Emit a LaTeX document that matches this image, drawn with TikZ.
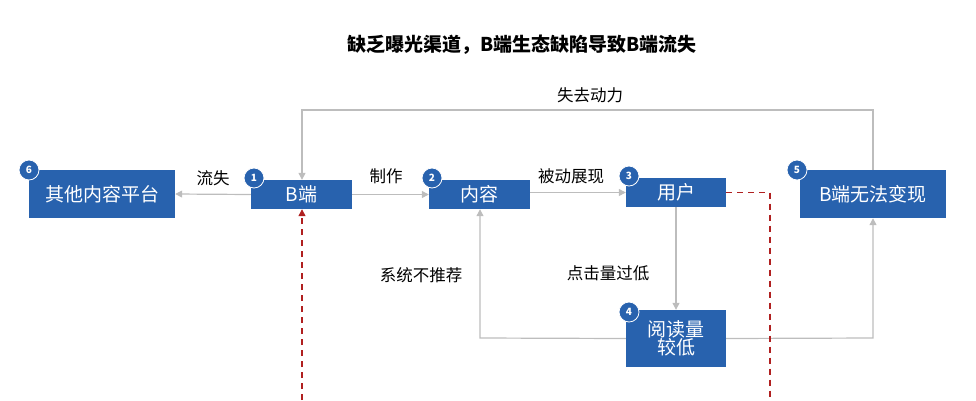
\documentclass[tikz,border=0pt]{standalone}
\usepackage{fontspec}
\setmainfont{Noto Sans CJK SC}
\usetikzlibrary{arrows.meta}
\definecolor{bblue}{HTML}{2862AE}
\definecolor{lgray}{HTML}{BDBDBD}
\definecolor{dred}{HTML}{B02020}
\begin{document}
\begin{tikzpicture}[x=1pt,y=-1pt,
 box/.style={fill=bblue,text=white,font=\fontsize{19}{21}\selectfont,inner sep=0pt,align=center},
 badge/.style={circle,fill=bblue,draw=white,line width=0.8pt,text=white,font=\bfseries\fontsize{10}{10}\selectfont,minimum size=20pt,inner sep=0pt},
 conn/.style={draw=lgray,line width=1.2pt,-{Triangle[length=7pt,width=7pt]}},
 red/.style={draw=dred,line width=1.3pt,dash pattern=on 6pt off 5pt},
 lbl/.style={font=\fontsize{16.5}{18}\selectfont,text=black}]
\useasboundingbox (0,0) rectangle (976,400);
\node[font=\bfseries\fontsize{19}{21}\selectfont] (title) at (522,45) {缺乏曝光渠道，B端生态缺陷导致B端流失};
\node[box,minimum width=146pt,minimum height=48pt] (n6) at (102,194) {其他内容平台};
\node[box,minimum width=101pt,minimum height=29pt] (n1) at (301.5,194.5) {B端};
\node[box,minimum width=101pt,minimum height=29pt] (n2) at (479.5,194.5) {内容};
\node[box,minimum width=100pt,minimum height=29pt] (n3) at (676,192.5) {用户};
\node[box,minimum width=100pt,minimum height=57pt] (n4) at (676,338.5) {阅读量\\[-3pt]较低};
\node[box,minimum width=146pt,minimum height=48pt] (n5) at (873,194) {B端无法变现};
\node[badge] (b6) at (29,170) {6};
\node[badge] (b1) at (254,178) {1};
\node[badge] (b2) at (432,178) {2};
\node[badge] (b3) at (629,176) {3};
\node[badge] (b4) at (629,312) {4};
\node[badge] (b5) at (797,170) {5};
\coordinate (tl) at (302,110);
\coordinate (tr) at (873,110);
\coordinate (bl) at (480,338);
\coordinate (br) at (873,338);
\draw[conn] (n1.west) -- (n6.east);
\draw[conn] (n1.east) -- (n2.west);
\draw[conn] (n2.east |- n3.west) -- (n3.west);
\draw[conn] (n3.south) -- (n4.north);
\draw[conn] (n5.north) -- (tr) -- (tl) -- (n1.north -| tl);
\draw[conn] (n4.west) -- (bl) -- (n2.south -| bl);
\draw[conn] (n4.east) -- (br) -- (n5.south);
\coordinate (r1) at (770,192.5);
\coordinate (r2) at (770,400);
\coordinate (r3) at (302,400);
\draw[red] (n3.east) -- (r1) -- (r2);
\draw[red,-{Triangle[length=7pt,width=7pt]}] (r3) -- (n1.south -| r3);
\node[lbl] (l1) at (213,178) {流失};
\node[lbl] (l2) at (386,176) {制作};
\node[lbl] (l3) at (571,176) {被动展现};
\node[lbl] (l4) at (590,95) {失去动力};
\node[lbl] (l5) at (608,273) {点击量过低};
\node[lbl] (l6) at (421,275) {系统不推荐};
\end{tikzpicture}
\end{document}
